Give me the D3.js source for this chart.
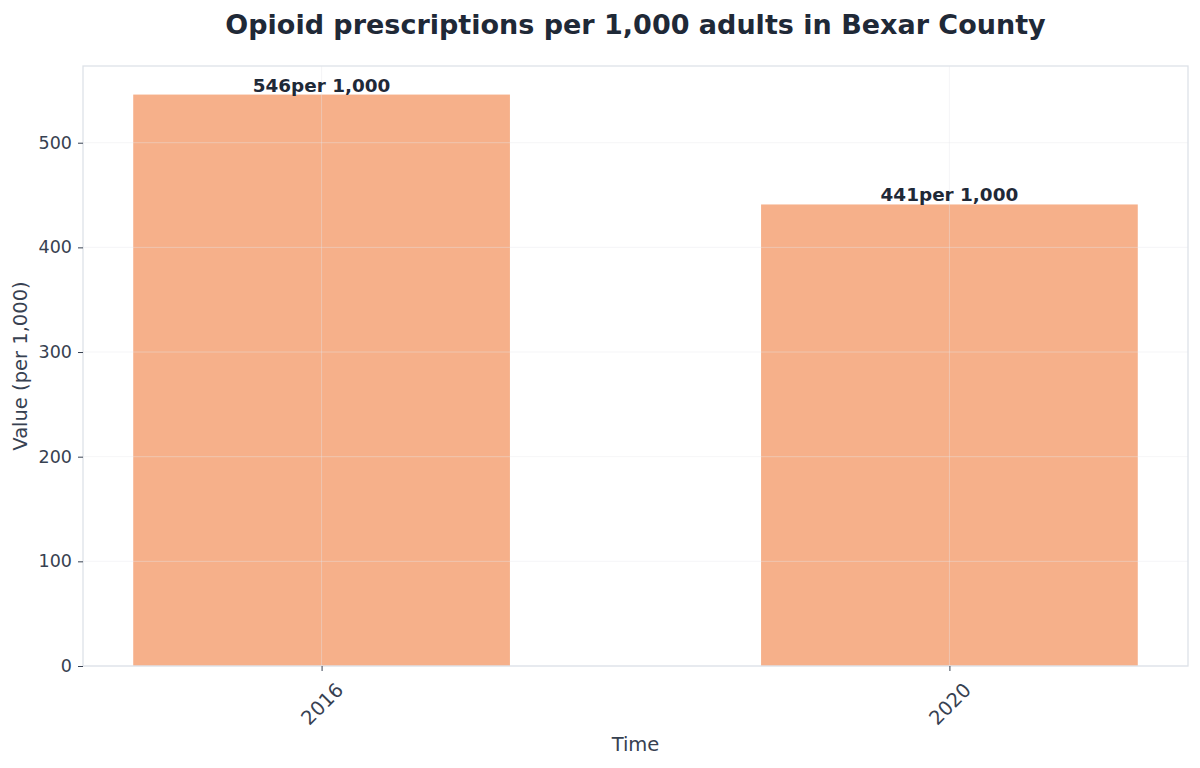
<!DOCTYPE html>
<html>
<head>
<meta charset="utf-8">
<script src="https://cdn.jsdelivr.net/npm/d3@7"></script>
<style>
body { margin: 0; background: #fff; font-family: "DejaVu Sans", sans-serif; }
</style>
</head>
<body>
<div id="chart"></div>
<script>
var years = ["2016", "2020"];
var values = [546, 441];
var unit = "per 1,000";
var yTicks = [0, 100, 200, 300, 400, 500];

var W = 1200, H = 768;
var margin = { top: 66, right: 12, bottom: 102, left: 83 },
    width = W - margin.left - margin.right,
    height = H - margin.top - margin.bottom;

var svg = d3.select("#chart").append("svg")
    .attr("width", W)
    .attr("height", H);

svg.append("text")
    .attr("x", margin.left + width / 2)
    .attr("y", 34)
    .attr("text-anchor", "middle")
    .style("font-size", "27px")
    .style("font-weight", "bold")
    .style("fill", "#1f2937")
    .text("Opioid prescriptions per 1,000 adults in Bexar County");

var g = svg.append("g")
    .attr("transform", "translate(" + margin.left + "," + margin.top + ")");

// matplotlib-like categorical x: positions 0..n-1, bar width 0.6
var x = d3.scaleLinear()
    .domain([-0.38, years.length - 1 + 0.38])
    .range([0, width]);

var y = d3.scaleLinear()
    .domain([0, d3.max(values) * 1.05])
    .range([height, 0]);

var barW = x(0.6) - x(0);

g.selectAll(".bar")
    .data(values)
    .enter().append("rect")
    .attr("class", "bar")
    .attr("x", function(d, i) { return x(i) - barW / 2; })
    .attr("y", function(d) { return y(d); })
    .attr("width", barW)
    .attr("height", function(d) { return height - y(d); })
    .style("fill", "#f6b08a");

// grid on top of bars
g.selectAll(".hgrid")
    .data(yTicks)
    .enter().append("line")
    .attr("x1", 0).attr("x2", width)
    .attr("y1", function(d) { return y(d); })
    .attr("y2", function(d) { return y(d); })
    .style("stroke", "#e5e7eb")
    .style("stroke-opacity", 0.5)
    .style("stroke-width", 0.8);

g.selectAll(".vgrid")
    .data(years)
    .enter().append("line")
    .attr("y1", 0).attr("y2", height)
    .attr("x1", function(d, i) { return x(i); })
    .attr("x2", function(d, i) { return x(i); })
    .style("stroke", "#e5e7eb")
    .style("stroke-opacity", 0.5)
    .style("stroke-width", 0.8);

// frame
g.append("rect")
    .attr("width", width)
    .attr("height", height)
    .style("fill", "none")
    .style("stroke", "#dde2e8")
    .style("stroke-width", 1.3);

var yAxis = g.append("g")
    .call(d3.axisLeft(y).tickValues(yTicks).tickSize(5).tickPadding(6));
yAxis.select(".domain").remove();
yAxis.selectAll("line").style("stroke", "#374151");
yAxis.selectAll("text")
    .style("font-family", "DejaVu Sans")
    .style("font-size", "17.5px")
    .style("fill", "#374151");

var xAxis = g.append("g")
    .attr("transform", "translate(0," + height + ")")
    .call(d3.axisBottom(x).tickValues(d3.range(years.length))
        .tickFormat(function(i) { return years[i]; })
        .tickSize(5));
xAxis.select(".domain").remove();
xAxis.selectAll("line").style("stroke", "#374151");
xAxis.selectAll("text")
    .style("font-family", "DejaVu Sans")
    .style("font-size", "19.5px")
    .style("fill", "#374151")
    .attr("text-anchor", "middle")
    .attr("y", 0)
    .attr("dy", "0.35em")
    .attr("transform", "translate(0,38) rotate(-45)");

// value labels
g.selectAll(".lbl")
    .data(values)
    .enter().append("text")
    .attr("x", function(d, i) { return x(i); })
    .attr("y", function(d) { return y(d) - 3; })
    .attr("text-anchor", "middle")
    .style("font-size", "18.4px")
    .style("font-weight", "bold")
    .style("fill", "#1f2937")
    .text(function(d) { return d + unit; });

svg.append("text")
    .attr("x", margin.left + width / 2)
    .attr("y", 751)
    .attr("text-anchor", "middle")
    .style("font-size", "19.5px")
    .style("fill", "#374151")
    .text("Time");

svg.append("text")
    .attr("transform", "translate(27," + (margin.top + height / 2) + ") rotate(-90)")
    .attr("text-anchor", "middle")
    .style("font-size", "19.5px")
    .style("fill", "#374151")
    .text("Value (per 1,000)");
</script>
</body>
</html>
